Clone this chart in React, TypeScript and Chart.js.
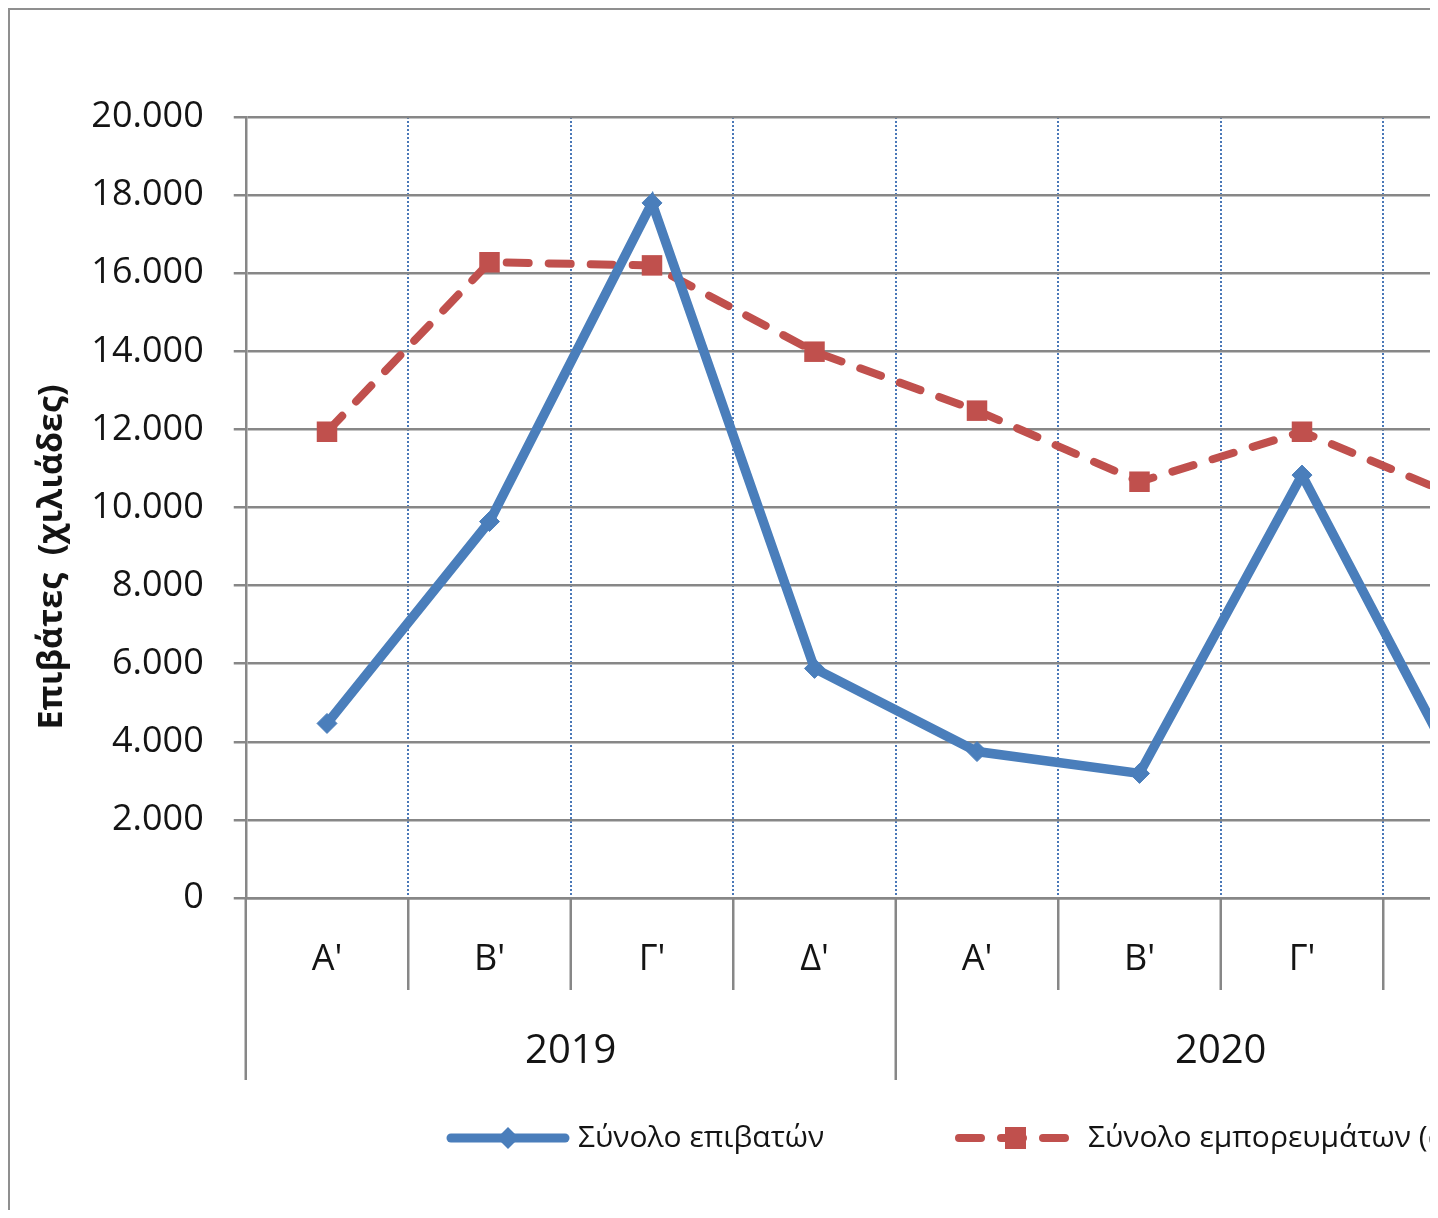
import React, { useEffect, useRef } from 'react';
import { Chart, registerables } from 'chart.js';

Chart.register(...registerables);

// ---- data ----
const quarters = ["Α'", "Β'", "Γ'", "Δ'", "Α'", "Β'", "Γ'", "Δ'"];
const years = ['2019', '2020'];
const passengers = [4470, 9640, 17800, 5880, 3750, 3190, 10830, 2900];
const goods = [11940, 16280, 16200, 13990, 12480, 10660, 11940, 10200];
const seriesNames = ['Σύνολο επιβατών', 'Σύνολο εμπορευμάτων (σε τόνους)'];
const yTitle = 'Επιβάτες  (χιλιάδες)';
const yMin = 0;
const yMax = 20000;
const yStep = 2000;

const BLUE = '#4a7ebb';
const RED = '#c0504d';
const GRAY = '#878787';
const DOT_BLUE = '#4a78b8';
const TEXT = '#141414';
const FONT = '"Open Sans", "Noto Sans", sans-serif';

const fmt = (v: number) => String(Math.round(v)).replace(/\B(?=(\d{3})+(?!\d))/g, '.');

const decor = {
  id: 'decor',
  afterDraw(chart: any) {
    const { ctx, chartArea, scales } = chart;
    const x = scales.x;
    const n = quarters.length;
    const w = x.getPixelForValue(1) - x.getPixelForValue(0);
    ctx.save();
    // category separators below the axis
    ctx.strokeStyle = GRAY;
    ctx.lineWidth = 2.5;
    for (let i = 0; i <= n; i++) {
      const px = x.getPixelForValue(i) - w / 2;
      const yEnd = i % 4 === 0 ? chartArea.bottom + 182 : chartArea.bottom + 92;
      ctx.beginPath();
      ctx.moveTo(px, chartArea.bottom);
      ctx.lineTo(px, yEnd);
      ctx.stroke();
    }
    // year labels
    ctx.fillStyle = TEXT;
    ctx.font = `40px ${FONT}`;
    ctx.textAlign = 'center';
    ctx.textBaseline = 'middle';
    years.forEach((yr, g) => {
      const cx = (x.getPixelForValue(g * 4) + x.getPixelForValue(g * 4 + 3)) / 2;
      ctx.fillText(yr, cx, chartArea.bottom + 154);
    });
    // y title
    ctx.save();
    ctx.translate(42, 547);
    ctx.rotate(-Math.PI / 2);
    ctx.font = `bold 34px ${FONT}`;
    ctx.fillText(yTitle, 0, 0);
    ctx.restore();

    // legend
    const ly = 1128;
    ctx.lineCap = 'round';
    ctx.strokeStyle = BLUE;
    ctx.lineWidth = 9;
    ctx.setLineDash([]);
    ctx.beginPath();
    ctx.moveTo(441, ly);
    ctx.lineTo(555, ly);
    ctx.stroke();
    ctx.fillStyle = BLUE;
    ctx.beginPath();
    ctx.moveTo(498, ly - 11);
    ctx.lineTo(509, ly);
    ctx.lineTo(498, ly + 11);
    ctx.lineTo(487, ly);
    ctx.closePath();
    ctx.fill();
    ctx.strokeStyle = RED;
    ctx.lineWidth = 8;
    ctx.setLineDash([22, 20]);
    ctx.beginPath();
    ctx.moveTo(949, ly);
    ctx.lineTo(1061, ly);
    ctx.stroke();
    ctx.setLineDash([]);
    ctx.fillStyle = RED;
    ctx.fillRect(995, ly - 11, 21, 22);
    ctx.fillStyle = TEXT;
    ctx.font = `30px ${FONT}`;
    ctx.textAlign = 'left';
    ctx.textBaseline = 'middle';
    ctx.fillText(seriesNames[0], 568, ly);
    ctx.fillText(seriesNames[1], 1078, ly);
    ctx.restore();
  },
};

export default function App() {
  const ref = useRef<HTMLCanvasElement | null>(null);

  useEffect(() => {
    document.body.style.overflow = 'hidden';
    const canvas = ref.current;
    if (!canvas) return;
    const chart = new Chart(canvas, {
      type: 'line',
      data: {
        labels: quarters,
        datasets: [
          {
            label: seriesNames[0],
            data: passengers,
            borderColor: BLUE,
            backgroundColor: BLUE,
            borderWidth: 9.5,
            pointStyle: 'rectRot',
            pointRadius: 10,
            pointBorderWidth: 1,
            pointBackgroundColor: BLUE,
            pointBorderColor: BLUE,
            borderJoinStyle: 'miter',
            tension: 0,
            clip: false as any,
          },
          {
            label: seriesNames[1],
            data: goods,
            borderColor: RED,
            backgroundColor: RED,
            borderWidth: 8,
            borderDash: [22, 20],
            borderCapStyle: 'round',
            pointStyle: 'rect',
            pointRadius: 14.5,
            pointBorderWidth: 0,
            pointBackgroundColor: RED,
            pointBorderColor: RED,
            tension: 0,
            clip: false as any,
          },
        ],
      },
      options: {
        animation: false,
        responsive: false,
        devicePixelRatio: 1,
        layout: { padding: { left: 14, top: 107, right: 154.25, bottom: 0 } },
        plugins: {
          legend: { display: false },
          tooltip: { enabled: false },
        },
        scales: {
          x: {
            type: 'category',
            offset: true,
            grid: {
              offset: true,
              drawTicks: false,
              lineWidth: 2,
              color: (c: any) => (c.index === 0 ? 'rgba(0,0,0,0)' : DOT_BLUE),
            },
            border: { display: true, color: GRAY, width: 2.5, dash: [2, 2] },
            ticks: {
              color: TEXT,
              font: { family: FONT, size: 36 },
              padding: 40,
              maxRotation: 0,
              autoSkip: false,
            },
            afterFit: (s: any) => {
              s.height = 312;
            },
          },
          y: {
            min: yMin,
            max: yMax,
            grid: {
              color: GRAY,
              lineWidth: 2.5,
              tickLength: 12,
              drawTicks: true,
              tickColor: GRAY,
              tickWidth: 2.5,
            },
            border: { display: true, color: GRAY, width: 2.5 },
            ticks: {
              stepSize: yStep,
              color: TEXT,
              font: { family: FONT, size: 36 },
              padding: 30,
              callback: (v: any) => fmt(Number(v)),
            },
            afterFit: (s: any) => {
              s.width = 221.75;
            },
          },
        },
      },
      plugins: [decor],
    });
    return () => chart.destroy();
  }, []);

  return (
    <div style={{ width: 1430, height: 1202, overflow: 'hidden', position: 'relative' }}>
      <div
        style={{
          position: 'absolute',
          left: 0,
          top: 0,
          width: 1700,
          height: 1230,
          border: '2px solid #8f8f8f',
          boxSizing: 'border-box',
          background: '#fff',
        }}
      >
        <canvas
          ref={ref}
          width={1690}
          height={1200}
          style={{ position: 'absolute', left: 0, top: 0, width: 1690, height: 1200 }}
        />
      </div>
    </div>
  );
}
